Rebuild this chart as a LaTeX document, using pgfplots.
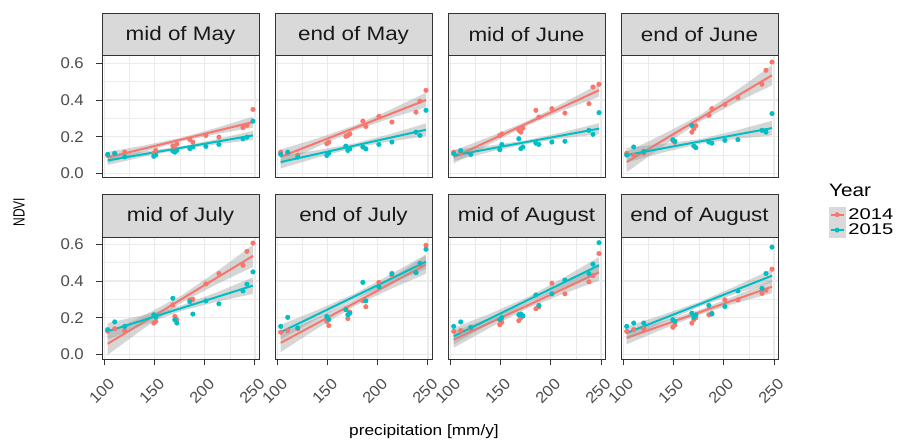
\documentclass[border=0pt]{standalone}
\usepackage{fontspec}
\setmainfont{Liberation Sans}
\newfontfamily\stripfont{Liberation Sans}[FakeStretch=1.15]
\newfontfamily\tickfont{Liberation Sans}[FakeStretch=1.08]
\newfontfamily\legfont{Liberation Sans}[FakeStretch=1.3]
\newfontfamily\titlefont{Liberation Sans}[FakeStretch=1.15]
\usepackage{pgfplots}
\pgfplotsset{compat=1.18}
\usepackage{pgfplotstable}

\definecolor{c14}{HTML}{F8766D}
\definecolor{c15}{HTML}{00BFC4}
\definecolor{bord}{HTML}{333333}
\definecolor{stripg}{HTML}{D9D9D9}
\definecolor{gridg}{HTML}{EBEBEB}
\definecolor{bandg}{HTML}{999999}
\definecolor{tickg}{HTML}{4D4D4D}

% x = precipitation, r = NDVI 2014, t = NDVI 2015
\pgfplotstableread{
x r t
103 0.098 0.104
110 0.105 0.110
120 0.116 0.090
149 0.110 0.093
151 0.125 0.100
168 0.150 0.122
170 0.136 0.116
172 0.160 0.125
185 0.184 0.135
188 0.170 0.144
201 0.207 0.147
214 0.198 0.158
238 0.250 0.189
242 0.262 0.198
248 0.349 0.285
}\pA
\pgfplotstableread{
x r t
103 0.116 0.104
110 0.110 0.116
120 0.100 0.089
149 0.162 0.098
151 0.170 0.110
168 0.202 0.149
170 0.207 0.125
172 0.215 0.134
185 0.285 0.144
188 0.256 0.134
201 0.311 0.158
214 0.280 0.171
238 0.334 0.225
242 0.394 0.207
248 0.453 0.344
}\pB
\pgfplotstableread{
x r t
103 0.116 0.107
110 0.110 0.125
120 0.107 0.104
149 0.207 0.129
151 0.215 0.158
168 0.235 0.189
170 0.225 0.135
172 0.247 0.144
185 0.344 0.165
188 0.307 0.158
201 0.353 0.171
214 0.329 0.175
238 0.380 0.235
242 0.471 0.213
248 0.486 0.331
}\pC
\pgfplotstableread{
x r t
103 0.110 0.100
110 0.100 0.144
120 0.110 0.120
149 0.180 0.184
151 0.170 0.175
168 0.225 0.262
170 0.244 0.149
172 0.260 0.140
185 0.316 0.171
188 0.353 0.165
201 0.376 0.180
214 0.413 0.184
238 0.486 0.235
242 0.562 0.225
248 0.607 0.326
}\pD
\pgfplotstableread{
x r t
103 0.126 0.135
110 0.140 0.177
120 0.130 0.153
149 0.171 0.216
151 0.180 0.205
168 0.270 0.306
170 0.207 0.189
172 0.190 0.171
185 0.297 0.288
188 0.300 0.220
201 0.384 0.292
214 0.441 0.276
238 0.486 0.346
242 0.562 0.382
248 0.607 0.450
}\pE
\pgfplotstableread{
x r t
103 0.121 0.153
110 0.130 0.202
120 0.140 0.144
149 0.180 0.207
151 0.157 0.190
168 0.249 0.243
170 0.195 0.216
172 0.230 0.225
185 0.292 0.393
188 0.260 0.292
201 0.393 0.369
214 0.432 0.441
238 0.446 0.446
242 0.486 0.496
248 0.595 0.573
}\pF
\pgfplotstableread{
x r t
103 0.126 0.153
110 0.130 0.177
120 0.140 0.148
149 0.162 0.189
151 0.175 0.200
168 0.184 0.216
170 0.200 0.220
172 0.210 0.210
185 0.249 0.324
188 0.260 0.267
201 0.388 0.330
214 0.330 0.405
238 0.396 0.440
242 0.429 0.492
248 0.550 0.609
}\pG
\pgfplotstableread{
x r t
103 0.126 0.153
110 0.135 0.171
120 0.140 0.171
149 0.148 0.189
151 0.160 0.180
168 0.171 0.225
170 0.190 0.202
172 0.200 0.215
185 0.216 0.267
188 0.225 0.220
201 0.297 0.261
214 0.297 0.346
238 0.333 0.360
242 0.350 0.441
248 0.465 0.585
}\pH

\pgfplotsset{
  panel/.style={
    scale only axis, width=157pt, height=122pt, anchor=north west,
    xmin=97.3, xmax=254, ymin=-0.025, ymax=0.64,
    xtick={100,150,200,250}, ytick={0,0.2,0.4,0.6},
    minor xtick={125,175,225}, minor ytick={0.1,0.3,0.5},
    grid=both,
    major grid style={gridg, line width=1.1pt},
    minor grid style={gridg, line width=0.6pt},
    axis line style={bord, line width=1pt},
    tick align=outside, major tick length=6pt, minor tick length=0pt,
    tick style={bord, line width=1pt},
    xtick pos=left, ytick pos=left,
    clip=false, scaled ticks=false,
    /pgf/number format/assume math mode=true,
    ticklabel style={font=\tickfont\fontsize{15.5}{16}\selectfont, text=tickg},
    yticklabel style={/pgf/number format/fixed, /pgf/number format/fixed zerofill,
      /pgf/number format/precision=1, inner sep=0pt, xshift=-12pt},
    xticklabel style={inner sep=0pt, xshift=3pt, yshift=-12pt, rotate=45, anchor=north east},
  },
  pts14/.style={only marks, mark=*, mark size=2.3pt, color=c14},
  pts15/.style={only marks, mark=*, mark size=2.3pt, color=c15},
  band/.style={fill=bandg, fill opacity=0.4, draw=none},
  fit14/.style={c14, line width=2pt, no marks},
  fit15/.style={c15, line width=2pt, no marks},
}
\newcommand{\strip}[1]{%
  \draw[bord, fill=stripg, line width=1pt] (rel axis cs:0,1) rectangle ([yshift=42pt]rel axis cs:1,1);
  \node[font=\stripfont\fontsize{19.5}{20}\selectfont, text=black!90] at ([yshift=21pt]rel axis cs:0.5,1) {#1};
}

\begin{document}
\begin{tikzpicture}
\useasboundingbox (0pt,0pt) rectangle (901pt,-443pt);

% ---------- row 1 ----------
\begin{axis}[panel, at={(102pt,-56pt)}, xmajorticks=false]
\addplot[pts14] table[x=x,y=r]{\pA};
\addplot[pts15] table[x=x,y=t]{\pA};
\addplot[band] coordinates {(103,0.117) (140,0.153) (176,0.194) (212,0.249) (248,0.310) (248,0.250) (212,0.215) (176,0.174) (140,0.119) (103,0.057)};
\addplot[fit14] coordinates {(103,0.087) (248,0.280)};
\addplot[band] coordinates {(103,0.096) (140,0.120) (176,0.147) (212,0.187) (248,0.232) (248,0.182) (212,0.159) (176,0.131) (140,0.092) (103,0.046)};
\addplot[fit15] coordinates {(103,0.071) (248,0.207)};
\strip{mid of May}
\end{axis}

\begin{axis}[panel, at={(275pt,-56pt)}, xmajorticks=false, ymajorticks=false]
\addplot[pts14] table[x=x,y=r]{\pB};
\addplot[pts15] table[x=x,y=t]{\pB};
\addplot[band] coordinates {(103,0.130) (140,0.192) (176,0.260) (212,0.346) (248,0.440) (248,0.360) (212,0.300) (176,0.232) (140,0.146) (103,0.050)};
\addplot[fit14] coordinates {(103,0.090) (248,0.400)};
\addplot[band] coordinates {(103,0.097) (140,0.127) (176,0.163) (212,0.214) (248,0.273) (248,0.203) (212,0.174) (176,0.139) (140,0.087) (103,0.027)};
\addplot[fit15] coordinates {(103,0.062) (248,0.238)};
\strip{end of May}
\end{axis}

\begin{axis}[panel, at={(448pt,-56pt)}, xmajorticks=false, ymajorticks=false]
\addplot[pts14] table[x=x,y=r]{\pC};
\addplot[pts15] table[x=x,y=t]{\pC};
\addplot[band] coordinates {(103,0.124) (140,0.202) (176,0.284) (212,0.383) (248,0.488) (248,0.418) (212,0.343) (176,0.260) (140,0.162) (103,0.054)};
\addplot[fit14] coordinates {(103,0.089) (248,0.453)};
\addplot[band] coordinates {(103,0.128) (140,0.152) (176,0.181) (212,0.225) (248,0.274) (248,0.214) (212,0.191) (176,0.161) (140,0.118) (103,0.068)};
\addplot[fit15] coordinates {(103,0.098) (248,0.244)};
\strip{mid of June}
\end{axis}

\begin{axis}[panel, at={(621pt,-56pt)}, xmajorticks=false, ymajorticks=false]
\addplot[pts14] table[x=x,y=r]{\pD};
\addplot[pts15] table[x=x,y=t]{\pD};
\addplot[band] coordinates {(103,0.117) (140,0.215) (176,0.318) (212,0.450) (248,0.590) (248,0.480) (212,0.386) (176,0.282) (140,0.151) (103,0.007)};
\addplot[fit14] coordinates {(103,0.062) (248,0.535)};
\addplot[band] coordinates {(103,0.140) (140,0.161) (176,0.187) (212,0.234) (248,0.287) (248,0.207) (212,0.188) (176,0.161) (140,0.115) (103,0.060)};
\addplot[fit15] coordinates {(103,0.100) (248,0.247)};
\strip{end of June}
\end{axis}

% ---------- row 2 ----------
\begin{axis}[panel, at={(102pt,-237pt)}]
\addplot[pts14] table[x=x,y=r]{\pE};
\addplot[pts15] table[x=x,y=t]{\pE};
\addplot[band] coordinates {(103,0.118) (140,0.215) (176,0.319) (212,0.453) (248,0.597) (248,0.477) (212,0.383) (176,0.279) (140,0.145) (103,-0.002)};
\addplot[fit14] coordinates {(103,0.058) (248,0.537)};
\addplot[band] coordinates {(103,0.171) (140,0.216) (176,0.266) (212,0.339) (248,0.420) (248,0.330) (212,0.287) (176,0.236) (140,0.164) (103,0.081)};
\addplot[fit15] coordinates {(103,0.126) (248,0.375)};
\strip{mid of July}
\end{axis}

\begin{axis}[panel, at={(275pt,-237pt)}, ymajorticks=false]
\addplot[pts14] table[x=x,y=r]{\pF};
\addplot[pts15] table[x=x,y=t]{\pF};
\addplot[band] coordinates {(103,0.113) (140,0.201) (176,0.295) (212,0.413) (248,0.540) (248,0.440) (212,0.355) (176,0.261) (140,0.143) (103,0.013)};
\addplot[fit14] coordinates {(103,0.063) (248,0.490)};
\addplot[band] coordinates {(103,0.161) (140,0.243) (176,0.329) (212,0.434) (248,0.545) (248,0.465) (212,0.386) (176,0.299) (140,0.195) (103,0.081)};
\addplot[fit15] coordinates {(103,0.121) (248,0.505)};
\strip{end of July}
\end{axis}

\begin{axis}[panel, at={(448pt,-237pt)}, ymajorticks=false]
\addplot[pts14] table[x=x,y=r]{\pG};
\addplot[pts15] table[x=x,y=t]{\pG};
\addplot[band] coordinates {(103,0.126) (140,0.200) (176,0.281) (212,0.382) (248,0.492) (248,0.402) (212,0.330) (176,0.249) (140,0.148) (103,0.036)};
\addplot[fit14] coordinates {(103,0.081) (248,0.447)};
\addplot[band] coordinates {(103,0.144) (140,0.224) (176,0.310) (212,0.416) (248,0.531) (248,0.441) (212,0.364) (176,0.278) (140,0.172) (103,0.054)};
\addplot[fit15] coordinates {(103,0.099) (248,0.486)};
\strip{mid of August}
\end{axis}

\begin{axis}[panel, at={(621pt,-237pt)}, ymajorticks=false]
\addplot[pts14] table[x=x,y=r]{\pH};
\addplot[pts15] table[x=x,y=t]{\pH};
\addplot[band] coordinates {(103,0.125) (140,0.182) (176,0.243) (212,0.321) (248,0.404) (248,0.334) (212,0.279) (176,0.217) (140,0.140) (103,0.055)};
\addplot[fit14] coordinates {(103,0.090) (248,0.369)};
\addplot[band] coordinates {(103,0.152) (140,0.218) (176,0.287) (212,0.373) (248,0.464) (248,0.394) (212,0.331) (176,0.261) (140,0.176) (103,0.082)};
\addplot[fit15] coordinates {(103,0.117) (248,0.429)};
\strip{end of August}
\end{axis}

% ---------- legend ----------
\begin{axis}[scale only axis, width=157pt, height=122pt, anchor=north west, at={(621pt,-237pt)},
  hide axis, xmin=0, xmax=1, ymin=0, ymax=1,
  legend style={draw=none, fill=none, at={(1.3248,1.2459)}, anchor=north west,
    inner sep=0pt, outer sep=0pt, row sep=0pt, column sep=3pt,
    font=\legfont\fontsize{15.5}{15.5}\selectfont, cells={anchor=west}, nodes={inner sep=0pt}},
  legend image code/.code={%
    \fill[black!15] (0pt,-7.5pt) rectangle (16pt,7.5pt);
    \draw[#1, line width=2pt] (1.5pt,0pt) -- (14.5pt,0pt);
    \fill[#1] (8pt,0pt) circle (2.2pt);}]
\addlegendimage{c14}
\addlegendentry{2014}
\addlegendimage{c15}
\addlegendentry{2015}
\end{axis}

\node[anchor=base west, inner sep=0pt, font=\titlefont\fontsize{18}{18}\selectfont] at (829pt,-197pt) {Year};
\node[inner sep=0pt, font=\titlefont\fontsize{15}{15}\selectfont] at (424pt,-432pt) {precipitation [mm/y]};
\node[inner sep=0pt, rotate=90, font=\fontsize{12}{12}\selectfont] at (19pt,-212pt) {\scalebox{1}[1.35]{NDVI}};
\end{tikzpicture}
\end{document}
